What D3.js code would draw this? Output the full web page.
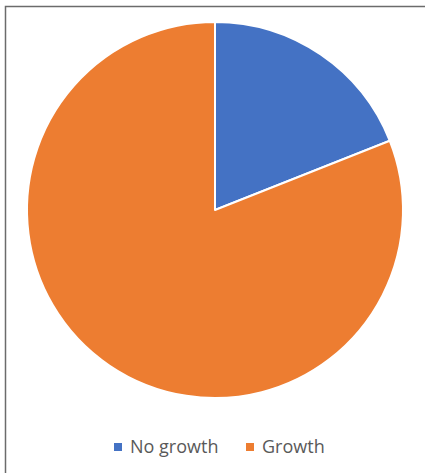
<!DOCTYPE html>
<html>
<head>
<meta charset="utf-8">
<script src="https://cdn.jsdelivr.net/npm/d3@7"></script>
<style>
  body { margin: 0; background: #fff; }
  svg { display: block; }
  .legend text { font-family: "Open Sans", "Noto Sans", sans-serif; font-size: 18px; fill: #595959; }
</style>
</head>
<body>
<div id="grafico-pizza"><svg width="425" height="473"></svg></div>
<script>
const categorias = ['No growth', 'Growth']
const valores = [19, 81]
const cores = ['#4472C4', '#ED7D31']

const dados = categorias.map((c, i) => ({ name: c, value: valores[i] }))

const svg = d3.select('#grafico-pizza svg')

/*moldura: apenas topo e esquerda visiveis*/
svg.append('path')
  .attr('d', 'M5.5,473 V6.5 H425')
  .attr('fill', 'none')
  .attr('stroke', '#6b6b6b')
  .attr('stroke-width', 1.5)

const cx = 215, cy = 210, raio = 188

const cor = d3.scaleOrdinal()
  .domain(categorias)
  .range(cores)

const pie = d3.pie()
  .sort(null)
  .value((d) => d.value)

const arc = d3.arc()
  .innerRadius(0)
  .outerRadius(raio)

const chart = svg.append('g')
  .attr('transform', `translate(${cx}, ${cy})`)

chart.selectAll('path')
  .data(pie(dados))
  .enter()
  .append('path')
  .attr('d', arc)
  .attr('fill', (d) => cor(d.data.name))
  .attr('stroke', '#fff')
  .attr('stroke-width', 2)
  .attr('stroke-linejoin', 'round')

/*legenda*/
const legend = svg.append('g')
  .attr('class', 'legend')

const posX = [114, 246]
const itens = legend.selectAll('g')
  .data(categorias)
  .enter()
  .append('g')
  .attr('transform', (d, i) => `translate(${posX[i]}, 447)`)

itens.append('rect')
  .attr('x', 0)
  .attr('y', -4)
  .attr('width', 8)
  .attr('height', 8)
  .attr('fill', (d) => cor(d))

itens.append('text')
  .attr('x', 16)
  .attr('y', 0)
  .attr('dy', '0.35em')
  .text((d) => d)
</script>
</body>
</html>
